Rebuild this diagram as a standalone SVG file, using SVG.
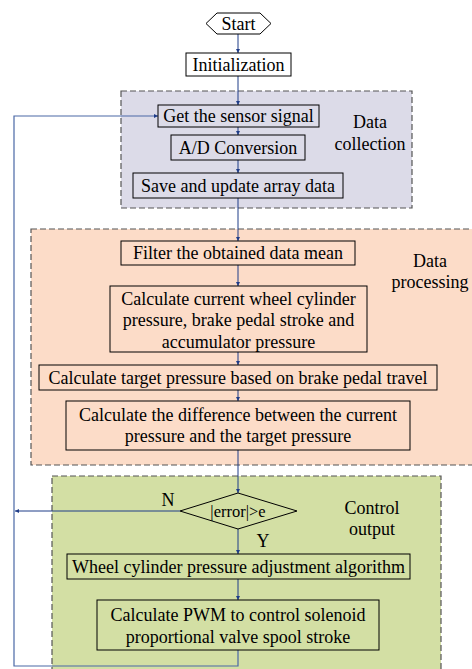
<svg xmlns="http://www.w3.org/2000/svg" width="472" height="669" viewBox="0 0 472 669">
<defs>
<style>
.region{stroke:#555;stroke-width:1.2;stroke-dasharray:6,3}
.box{fill:none;stroke:#000;stroke-width:1}
text{font-family:'Liberation Serif','Times New Roman',serif;font-size:18px;fill:#000;text-anchor:middle}
.c{fill:none;stroke:#1f3c88;stroke-width:1}
.loop{fill:none;stroke:#4a68a6;stroke-width:1.2}
</style>
<marker id="ah" viewBox="0 0 6 6" refX="6" refY="3" markerWidth="4" markerHeight="4" orient="auto" markerUnits="userSpaceOnUse">
<path d="M0,0 L6,3 L0,6 z" fill="#1f3c88"/>
</marker>
</defs>
<rect width="472" height="669" fill="#fff"/>
<g id="region-collection">
<rect class="region" x="121" y="91" width="291" height="117" fill="#dcdbe8"/>
<text x="370" y="128">Data</text>
<text x="370" y="150">collection</text>
</g>
<g id="region-processing">
<rect class="region" x="31" y="229" width="450" height="236" fill="#fcdcc8"/>
<text x="430" y="267">Data</text>
<text x="430" y="288">processing</text>
</g>
<g id="region-control">
<rect class="region" x="52" y="476" width="389" height="200" fill="#d3dfa4"/>
<text x="372" y="514">Control</text>
<text x="372" y="535">output</text>
</g>
<g id="connectors">
<path class="c" d="M238,34 V53" marker-end="url(#ah)"/>
<path class="c" d="M238,76 V105" marker-end="url(#ah)"/>
<path class="c" d="M238,127 V135" marker-end="url(#ah)"/>
<path class="c" d="M238,160 V173" marker-end="url(#ah)"/>
<path class="c" d="M238,198 V241" marker-end="url(#ah)"/>
<path class="c" d="M238,265 V286" marker-end="url(#ah)"/>
<path class="c" d="M238,352 V365" marker-end="url(#ah)"/>
<path class="c" d="M238,390 V401" marker-end="url(#ah)"/>
<path class="c" d="M238,450 V493" marker-end="url(#ah)"/>
<path class="c" d="M238,529 V554" marker-end="url(#ah)"/>
<path class="c" d="M238,579 V600" marker-end="url(#ah)"/>
<path class="loop" d="M238,650 V666 H14 V116 H158" marker-end="url(#ah)"/>
<path class="c" d="M180,511 H15" marker-end="url(#ah)"/>
<text x="168" y="506">N</text>
<text x="263" y="547">Y</text>
</g>
<g id="start">
<polygon points="206,23.5 217,13 260,13 271,23.5 260,34 217,34" fill="#fff" stroke="#000"/>
<text x="238.5" y="29.5">Start</text>
</g>
<g id="init">
<rect x="186" y="53" width="105" height="23" fill="#fff" stroke="#000"/>
<text x="238.5" y="70.5">Initialization</text>
</g>
<g id="get-signal">
<rect class="box" x="158" y="105" width="161" height="22"/>
<text x="238.5" y="121.5">Get the sensor signal</text>
</g>
<g id="ad">
<rect class="box" x="171" y="135" width="134" height="25"/>
<text x="238" y="153.5">A/D Conversion</text>
</g>
<g id="save">
<rect class="box" x="133" y="173" width="210" height="25"/>
<text x="238" y="191.5">Save and update array data</text>
</g>
<g id="filter">
<rect class="box" x="121" y="241" width="234" height="24"/>
<text x="238" y="259">Filter the obtained data mean</text>
</g>
<g id="calc-current">
<rect class="box" x="110" y="286" width="257" height="66"/>
<text x="238.5" y="304.5">Calculate current wheel cylinder</text>
<text x="238.5" y="326">pressure, brake pedal stroke and</text>
<text x="238.5" y="347.5">accumulator pressure</text>
</g>
<g id="target">
<rect class="box" x="39" y="365" width="398" height="25"/>
<text x="238" y="383.5">Calculate target pressure based on brake pedal travel</text>
</g>
<g id="difference">
<rect class="box" x="66" y="401" width="344" height="49"/>
<text x="238" y="420.5">Calculate the difference between the current</text>
<text x="238" y="442">pressure and the target pressure</text>
</g>
<g id="decision">
<polygon points="180,511 238,493 297,511 238,529" fill="none" stroke="#000"/>
<text x="238" y="516.5" style="font-size:16.5px">|error|&gt;e</text>
</g>
<g id="wheel">
<rect class="box" x="67" y="554" width="343" height="25"/>
<text x="238.5" y="572.5">Wheel cylinder pressure adjustment algorithm</text>
</g>
<g id="pwm">
<rect class="box" x="97" y="600" width="282" height="50"/>
<text x="238" y="621">Calculate PWM to control solenoid</text>
<text x="238" y="642.5">proportional valve spool stroke</text>
</g>
</svg>
